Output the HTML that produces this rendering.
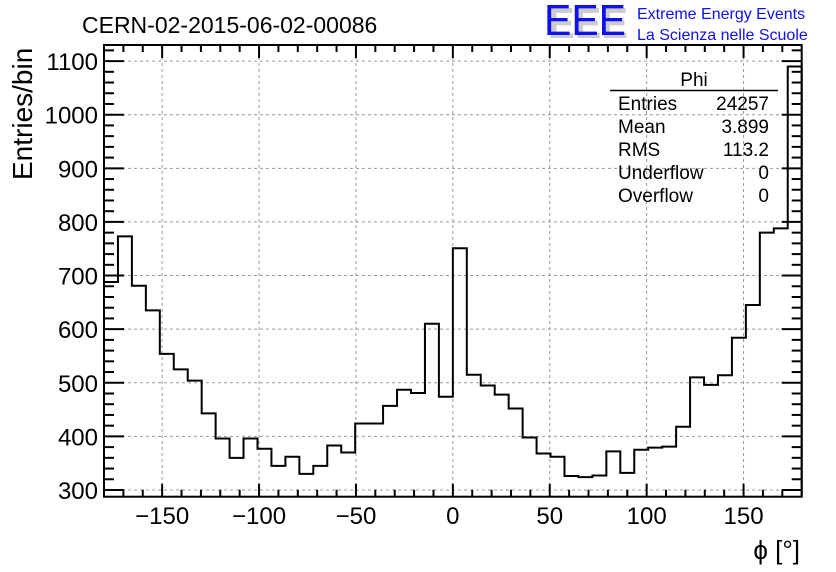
<!DOCTYPE html>
<html><head><meta charset="utf-8"><style>
body{margin:0;background:#fff}
svg{display:block;font-family:"Liberation Sans",sans-serif}
</style></head><body>
<svg id="c" width="836" height="572" viewBox="0 0 836 572">
<g id="grid"></g>
<g id="ticks"></g>
<path id="hist" fill="none" stroke="#000" stroke-width="2"/>
<rect x="104" y="45" width="697.7" height="451.7" fill="none" stroke="#000" stroke-width="2"/>
<text x="82" y="33" font-size="23">CERN-02-2015-06-02-00086</text>
<g>
<text x="548" y="38" font-size="44" fill="#ccc" font-weight="bold" textLength="80" lengthAdjust="spacingAndGlyphs">EEE</text>
<text x="544" y="35" font-size="44" fill="#1010ee" textLength="82" lengthAdjust="spacingAndGlyphs">EEE</text>
<text x="637" y="19" font-size="16" fill="#1010ee">Extreme Energy Events</text>
<text x="637" y="40" font-size="16" fill="#1010ee">La Scienza nelle Scuole</text>
</g>
<g font-size="19">
<text x="694" y="86" text-anchor="middle">Phi</text>
<line x1="610" y1="90.5" x2="778" y2="90.5" stroke="#000" stroke-width="1.5"/>
<text x="618" y="110">Entries</text><text x="769" y="110" text-anchor="end">24257</text>
<text x="618" y="133">Mean</text><text x="769" y="133" text-anchor="end">3.899</text>
<text x="618" y="156">RMS</text><text x="769" y="156" text-anchor="end">113.2</text>
<text x="618" y="179">Underflow</text><text x="769" y="179" text-anchor="end">0</text>
<text x="618" y="202">Overflow</text><text x="769" y="202" text-anchor="end">0</text>
</g>
<text transform="translate(32,180) rotate(-90)" font-size="28">Entries/bin</text>
<text x="800" y="559" font-size="26" text-anchor="end">ϕ [°]</text>
<g id="xl" font-size="24" text-anchor="middle"></g>
<g id="yl" font-size="24" text-anchor="end"></g>
</svg>
<script>
const binEdgesStart = -180;
const binWidth = 7.2;
const counts = [688,773,681,635,554,525,504,443,396,360,396,377,345,362,330,345,383,370,424,424,457,487,481,610,474,751,515,495,478,452,398,368,362,326,324,327,372,332,375,379,381,418,510,496,514,584,645,780,788,1090];
const xTicks = [-150,-100,-50,0,50,100,150];
const xTickLabels = ["\u2212150","\u2212100","\u221250","0","50","100","150"];
const yTicks = [300,400,500,600,700,800,900,1000,1100];
const yTickLabels = ["300","400","500","600","700","800","900","1000","1100"];

const X0=104,X1=801.7,Y0=496.7,Y1=45,xmin=-180,xmax=180,ymin=287.5,ymax=1130;
const sx=v=>X0+(v-xmin)/(xmax-xmin)*(X1-X0);
const sy=v=>Y0-(v-ymin)/(ymax-ymin)*(Y0-Y1);
const NS="http://www.w3.org/2000/svg";
function mk(tag,parent,attrs){const e=document.createElementNS(NS,tag);for(const k in attrs)e.setAttribute(k,attrs[k]);parent.appendChild(e);return e;}
const grid=document.getElementById('grid'),ticks=document.getElementById('ticks');
xTicks.forEach((t,i)=>{
  const l=mk('line',grid,{x1:sx(t),x2:sx(t),y1:Y1,y2:Y0,stroke:'#999','stroke-dasharray':'3,3','stroke-width':1});
  
  
  const tx=mk('text',document.getElementById('xl'),{x:sx(t),y:524});
  tx.textContent=xTickLabels[i];
  
  
});
yTicks.forEach((t,i)=>{
  const l=mk('line',grid,{x1:X0,x2:X1,y1:sy(t),y2:sy(t),stroke:'#999','stroke-dasharray':'3,3','stroke-width':1});
  
  
  const tx=mk('text',document.getElementById('yl'),{x:98,y:sy(t)+9});
  tx.textContent=yTickLabels[i];
  
  
});
for(let v=-170;v<=170;v+=10){
  const L=(v%50===0)?13:7;
  mk('line',ticks,{x1:sx(v),x2:sx(v),y1:Y0,y2:Y0-L,stroke:'#000','stroke-width':2});
  mk('line',ticks,{x1:sx(v),x2:sx(v),y1:Y1,y2:Y1+L,stroke:'#000','stroke-width':2});
}
for(let v=300;v<=1120;v+=20){
  const L=(v%100===0)?20:10;
  mk('line',ticks,{x1:X0,x2:X0+L,y1:sy(v),y2:sy(v),stroke:'#000','stroke-width':2});
  mk('line',ticks,{x1:X1,x2:X1-L,y1:sy(v),y2:sy(v),stroke:'#000','stroke-width':2});
}
let d='M'+sx(binEdgesStart)+','+sy(counts[0]);
counts.forEach((c,i)=>{
  const a=binEdgesStart+i*binWidth,b=a+binWidth;
  d+=' L'+sx(a)+','+sy(c)+' L'+sx(b)+','+sy(c);
});
d+=' L'+sx(binEdgesStart+counts.length*binWidth)+','+Y0;
document.getElementById('hist').setAttribute('d',d);
</script>
</body></html>
